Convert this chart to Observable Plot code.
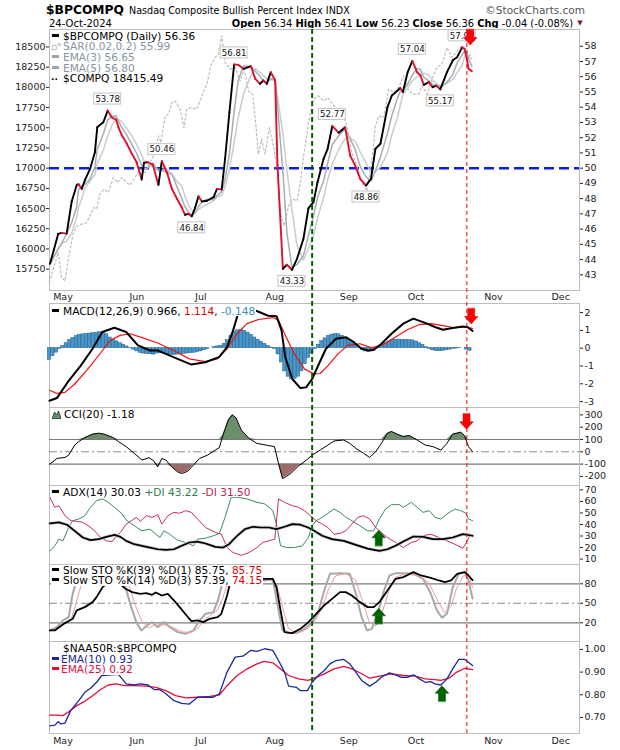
<!DOCTYPE html>
<html><head><meta charset="utf-8">
<script src="https://cdn.jsdelivr.net/npm/d3@7"></script>
<script src="https://cdn.jsdelivr.net/npm/@observablehq/plot@0.6"></script>
<style>
body{margin:0;background:#fff;}
#chart{position:relative;width:620px;height:750px;overflow:hidden;background:#fff;font-family:"DejaVu Sans",Verdana,sans-serif;}
.lg{position:absolute;left:51px;font:10.6px/10.7px "DejaVu Sans",Verdana,sans-serif;color:#000;}
.lg div{background:#fff;width:max-content;padding-right:1px;white-space:nowrap;height:10.7px;}
.ic{display:inline-block;width:7px;height:3px;margin:0 4px 0 1px;vertical-align:3px;}
.ict{display:inline-block;width:12px;font-size:9px;}
</style></head><body>
<div id="chart">
<svg width="620" height="28" style="position:absolute;left:0;top:0" font-family="DejaVu Sans, Verdana, sans-serif">
<text x="46" y="14" font-size="13" font-weight="bold" textLength="78" lengthAdjust="spacingAndGlyphs">$BPCOMPQ</text>
<text x="129" y="13.5" font-size="9.6">Nasdaq Composite Bullish Percent Index  INDX</text>
<text x="585" y="14" font-size="10.5" fill="#555" text-anchor="end">©StockCharts.com</text>
<text x="49" y="26.5" font-size="10">24-Oct-2024</text>
<text x="573" y="26.5" font-size="9.9" text-anchor="end"><tspan font-weight="bold">Open</tspan> 56.34 <tspan font-weight="bold">High</tspan> 56.41 <tspan font-weight="bold">Low</tspan> 56.23 <tspan font-weight="bold">Close</tspan> 56.36 <tspan font-weight="bold">Chg</tspan> -0.04 (-0.08%)</text>
<text x="580" y="25" font-size="7" fill="#8b1538" text-anchor="middle">▼</text>
</svg>
</div>
<script>
// ---------- DATA (x = trading-day index, 0 = 25-Apr-2024) ----------
const monthLabels = ["May","Jun","Jul","Aug","Sep","Oct","Nov","Dec"];
const monthStartDay = [4,26,45,67,89,109,132,152];

const bpcompq = [[0.15,43.72],[2.6,45.69],[3.6,45.75],[5.1,45.7],[6.6,47.81],[8.1,48.9],[8.6,48.95],[9.6,48.64],[10.6,49.25],[12.05,49.95],[13.5,51.04],[14.2,52.68],[16,53.01],[17.3,53.78],[18.5,53.34],[19.8,53.19],[20.5,52.68],[21.5,52.16],[23,51.6],[24.5,50.94],[25.9,50.39],[27.4,49.25],[28.1,50.35],[29.1,50.4],[30.7,50.24],[32.4,48.9],[33.4,50.46],[34.9,49.73],[36.4,48.64],[37.9,47.99],[39.3,47.43],[40.3,46.94],[41.3,47.0],[42.3,46.84],[43.3,47.4],[44.3,48.16],[45.3,47.81],[46.8,47.86],[48.8,48.1],[49.8,48.64],[51.2,48.6],[52.2,50.6],[53.5,53.67],[54.9,56.81],[56.1,56.78],[57.7,56.52],[59.9,56.69],[61.2,55.86],[62.6,55.53],[63.6,55.75],[64.6,55.53],[65.8,56.3],[67.1,55.75],[67.8,50.17],[69.4,43.4],[70.6,43.66],[72.1,43.33],[73.6,44.05],[75.5,45.36],[77,47.37],[78.5,47.77],[79.7,49.08],[81.5,50.61],[82.7,51.27],[84.1,52.77],[86,52.32],[87.9,52.68],[89.4,50.83],[90.9,50.17],[92.4,49.3],[94.1,48.86],[95.6,49.3],[96.9,51.27],[98.4,51.6],[100.5,54.0],[101.8,54.77],[103.5,55.09],[104.3,55.26],[105.1,55.0],[106.5,56.3],[107.9,57.04],[109.3,56.3],[110.3,56.08],[111.3,55.47],[112.8,55.65],[113.9,55.31],[115,55.41],[116.2,55.17],[118.2,56.3],[120,57.1],[121.2,57.28],[122.7,57.93],[123.4,57.84],[124.1,57.17],[124.6,56.52],[125.6,56.36]];

const compq = [[-0.05,15584],[1.1,15750],[2.6,15955],[3.6,15646],[4.6,15605],[5.6,15874],[7.1,16203],[8.3,16286],[9.6,16307],[11.1,16327],[12,16410],[13.2,16512],[14,16493],[15,16678],[16.2,16740],[17.5,16698],[19,16884],[20.2,16822],[21.5,16884],[22.8,16830],[23.9,16790],[25.4,16884],[26.9,16988],[28.4,16946],[29.9,17069],[31.4,17193],[32.4,17400],[33.1,17317],[34.4,17647],[35.4,17668],[36.4,17812],[37.3,17833],[38.8,17730],[40,17502],[40.8,17730],[42.3,17750],[43.8,17730],[45.3,17895],[46.8,18040],[47.96,18266],[49.2,18369],[50.2,18411],[51.2,18637],[52.2,18307],[53.7,18225],[55.2,18245],[56.7,18080],[57.9,18225],[59.2,17957],[60.4,17915],[61.4,17524],[62.1,17173],[63.1,17359],[64.1,17173],[65.4,17502],[66.6,17276],[67.8,16967],[68.6,16451],[69.8,16286],[71.1,16534],[72.4,16616],[73.6,16596],[74.6,16822],[75.7,17193],[77,17564],[78.5,17854],[80,17895],[81.5,17833],[82.7,17874],[84.2,17792],[85.5,17730],[87,17688],[88.4,17524],[89.9,17193],[91.4,17028],[92.9,16822],[94.4,16719],[95.9,17111],[96.9,17524],[97.9,17647],[99.4,17626],[100.8,17978],[102.3,17936],[103.8,17998],[105.3,18142],[106.8,17957],[108.3,17916],[109.8,17916],[110.8,18019],[112.3,17916],[113.7,18101],[115.2,18245],[116.7,18287],[118.2,18493],[119.7,18369],[121.2,18452],[122.7,18514],[124.2,18369],[125.6,18415]];
const compqTicks = [15750,16000,16250,16500,16750,17000,17250,17500,17750,18000,18250,18500];
const bpTicks = [43,44,45,46,47,48,49,50,51,52,53,54,55,56,57,58];

const peakDay = [17.3,33.4,42.3,54.9,72.1,84.1,94.1,107.9,116.2,122.7];
const peakValue = [53.78,50.46,46.84,56.81,43.33,52.77,48.86,57.04,55.17,57.93];
const peakSide = ["high","high","low","high","low","high","low","high","low","high"];

const macdLine = [[0,-2.95],[2.2,-2.8],[5.7,-1.83],[9.3,-0.98],[12.8,-0.03],[15.7,0.91],[19.3,1.15],[22.8,0.91],[26.3,0.16],[29.9,-0.13],[32.2,-0.13],[34.6,-0.32],[38.1,-0.6],[42.2,-0.92],[46.3,-0.79],[50.4,-0.5],[52.8,0.06],[54.6,1.0],[56,1.9],[57,2.07],[59,2.27],[62,2.06],[65,1.82],[67.5,1.8],[69,1.0],[70.1,-0.5],[72.2,-1.73],[74.6,-2.24],[76.3,-2.2],[78.1,-1.73],[79.9,-0.97],[82.2,-0.03],[85.2,0.53],[88.1,0.62],[90.5,0.34],[92.8,-0.03],[94.6,-0.13],[96.4,-0.1],[98.7,0.25],[101.7,0.81],[105.2,1.38],[108.2,1.66],[111.7,1.42],[114.6,1.19],[117,1.04],[119.9,1.13],[122.9,1.22],[124.3,1.19],[125.8,0.97]];
const macdSignal = [[0,-2.36],[2.2,-2.54],[4.6,-2.48],[7.5,-2.01],[11,-1.26],[14.6,-0.41],[18.1,0.44],[21,0.72],[24,0.81],[27.5,0.59],[32.2,0.29],[36.9,-0.13],[41.6,-0.6],[46.3,-0.75],[49.9,-0.6],[52.8,-0.03],[55.8,0.81],[58.7,1.38],[62.2,1.61],[66.4,1.72],[68.1,1.57],[69.9,0.81],[72.8,-0.32],[75.8,-1.16],[78.7,-1.45],[80.5,-1.42],[82.8,-0.98],[85.8,-0.32],[88.7,0.16],[92.3,0.25],[95.8,0.02],[99.3,0.21],[102.8,0.62],[106.4,1.04],[109.9,1.32],[113.4,1.38],[117,1.27],[120.5,1.15],[123.4,1.19],[125.8,1.11]];
const macdHist = [-0.66,-0.45,-0.25,-0.05,0.12,0.28,0.45,0.58,0.68,0.75,0.78,0.8,0.82,0.84,0.86,0.9,0.88,0.78,0.6,0.48,0.38,0.28,0.2,0.1,0.02,-0.08,-0.18,-0.26,-0.3,-0.32,-0.34,-0.36,-0.3,-0.28,-0.3,-0.34,-0.36,-0.38,-0.36,-0.34,-0.32,-0.3,-0.28,-0.26,-0.22,-0.18,-0.12,-0.06,0.0,0.06,0.1,0.14,0.25,0.45,0.7,0.9,1.0,1.02,0.98,0.88,0.75,0.6,0.48,0.36,0.24,0.12,0.04,-0.05,-0.35,-0.8,-1.3,-1.6,-1.75,-1.72,-1.6,-1.3,-0.9,-0.55,-0.3,-0.05,0.2,0.4,0.55,0.68,0.76,0.8,0.78,0.7,0.58,0.45,0.3,0.15,0.02,-0.1,-0.18,-0.2,-0.12,-0.02,0.08,0.18,0.28,0.38,0.45,0.48,0.48,0.47,0.46,0.45,0.44,0.38,0.28,0.18,0.06,-0.05,-0.12,-0.16,-0.17,-0.15,-0.12,-0.08,-0.04,-0.02,0.02,0.0,-0.08,-0.15];

const cci = [[0.1,-100],[2.2,-54],[4.6,-46],[5.7,-27],[7.5,55],[8.7,83],[10.5,115],[12.8,143],[14.6,151],[16.3,143],[18.7,118],[20.5,83],[22.8,42],[25.2,-13],[27.5,-67],[29.6,-48],[31.1,-76],[32.2,-122],[33.4,-54],[34.6,-67],[36.3,-122],[38.1,-163],[39.3,-177],[41.1,-158],[42.8,-108],[44.6,-54],[47,-27],[49.3,14],[50.5,34],[51.6,137],[53.2,260],[54.4,301],[55.5,274],[57,178],[59.3,110],[61.6,69],[65.2,50],[66.9,42],[68.1,-95],[69.3,-218],[71.7,-177],[74,-117],[76.4,-67],[78.1,-27],[80.5,14],[82.8,55],[84.6,88],[87.5,96],[89.3,69],[91.1,28],[93.4,-13],[95.2,-46],[97,1],[98.7,69],[100.5,151],[101.7,165],[103.4,143],[105.2,124],[107,132],[109.3,96],[111.7,55],[114,42],[116.4,14],[118.2,69],[119.9,143],[122.3,159],[123.4,132],[124.6,42],[125.8,1]];

const adx = [[0.1,40.9],[2.8,41.8],[5.2,39.8],[7.5,34.5],[9.9,28.7],[12.2,26.4],[14.6,27.3],[16.9,29.3],[19.3,31],[21.1,29.3],[22.8,25.8],[25.2,22.9],[27.5,21.5],[29.9,20],[32.2,18.5],[34.6,18],[37,18.5],[39.3,21.5],[41.6,24.4],[44,25.2],[46.4,23.5],[49.3,20.6],[51.6,20],[53.4,22.9],[55.8,30.2],[58.1,36],[60.5,38],[62.8,37.4],[65.2,37.4],[67.5,36],[69.9,38],[72.2,40.3],[74.6,39.8],[76.9,37.4],[78.7,34.5],[81.1,30.2],[84,27.3],[87.5,25.8],[91.1,22.3],[94.6,19.1],[98.1,17.1],[100.5,18.5],[102.9,21.5],[105.2,25.2],[108.2,29.6],[111.1,29.3],[114,27.3],[117,27.3],[119.9,28.7],[122.9,31.6],[125.8,30.2]];
const plusDI = [[0.1,17.1],[1.6,21.5],[2.8,27.3],[4,25.8],[5.7,37.4],[6.9,43.3],[8.7,44.7],[10.5,47.6],[12.2,54.9],[14,60.7],[15.8,62.2],[17.5,59.2],[19.3,54.9],[21.6,49.1],[22.8,43.8],[25.2,38.9],[27.5,34.5],[29.9,36],[31.6,31.6],[32.8,28.7],[34,34.5],[35.7,31.6],[38.1,26.4],[40.5,24.4],[42.8,21.5],[44,27.3],[46.4,28.1],[48.7,30.2],[50.5,32.2],[52.2,46.2],[54,63.6],[55.8,63.6],[58.7,62.2],[61.7,59.2],[64,57.8],[66.4,52],[67.5,40.3],[68.7,21.5],[70.5,20],[72.8,20],[75.2,21.5],[77,28.7],[78.1,38.9],[79.3,43.3],[81.1,46.2],[82.8,49.7],[84.6,53.4],[86.4,50.5],[88.1,46.2],[89.9,43.3],[92.3,38.9],[94.6,34.5],[96.4,34.5],[98.1,44.7],[99.9,53.4],[101.7,57.2],[104,57.2],[105.2,54.9],[107.6,59.2],[109.3,54.9],[111.1,50.5],[112.9,52],[114.6,46.2],[116.4,44.7],[118.2,49.1],[120.5,53.4],[122.3,52],[123.8,49.7],[124.6,44.7],[125.8,43.3]];
const minusDI = [[0.1,63.6],[1.6,54.9],[2.8,56.3],[4.6,47.6],[6.3,43.3],[8.1,42.7],[9.9,41.8],[11.6,38.9],[13.4,34.5],[15.2,28.7],[17,25.8],[18.7,25.2],[19.9,30.2],[21.1,33.1],[22.8,40.3],[24.6,43.8],[25.8,46.2],[27,42.7],[28.8,47.6],[30.5,46.2],[32.2,48.5],[33.4,40.3],[35.2,47.6],[37,50.5],[38.7,49.7],[40.5,52],[42.2,50.5],[44,44.7],[46.4,37.4],[49.3,33.1],[51.1,31.6],[52.8,20],[54.6,15.6],[57,13.3],[59.3,15.6],[61.7,20],[63.4,24.4],[65.2,25.8],[67,27.3],[68.1,62.2],[69.9,59.2],[72.2,56.3],[74,54.9],[75.8,52],[77.6,47.6],[79.3,43.3],[81.1,40.3],[82.8,37.4],[84.6,31.6],[86.4,32.2],[88.1,34.5],[89.9,40.3],[91.7,46.2],[93.4,47.6],[95.2,44.7],[97,37.4],[98.7,33.1],[100.5,28.7],[102.9,24.4],[105.2,20],[107.6,24.4],[109.3,25.8],[111.1,30.2],[113.4,31.6],[115.8,28.7],[118.2,25.8],[120.5,22.9],[122.9,19.4],[124,24.4],[125.2,31.6]];

const stoK39 = [[0.1,8.2],[1.6,8.2],[2.8,13.3],[4.6,19.5],[6.9,26.1],[8.1,39],[10.5,44.1],[12.8,51.8],[14,59.5],[15.8,74.9],[18,84],[20.5,82],[22.6,72.3],[24.6,67.2],[27,64.6],[28.8,65.6],[30.5,63.1],[31.6,66.7],[33.4,62],[35.2,64.6],[37,54.4],[38.7,44.1],[40.5,32.8],[42.2,22.5],[44,23.6],[45.8,21],[47.6,26.1],[50,28.7],[51.1,33.8],[52.8,62],[54,87.7],[56,96],[58,97],[60.5,90.3],[63.4,87.7],[66.4,87.7],[67.5,74.9],[68.7,39],[69.9,5.6],[72.2,4.1],[74.6,10.7],[77,21],[79.3,33.8],[81.7,46.7],[84,56.9],[86.4,67.2],[88.1,67.2],[89.9,62],[92.3,51.8],[94.6,44.1],[96.4,44.1],[98.1,51.8],[100.5,69.7],[102.9,87.7],[105.2,90.3],[108.2,98],[110.5,92.8],[113.4,89.2],[115.8,85.1],[117.6,82.6],[119.4,85.1],[121.2,95.4],[123.5,98],[124.6,92.8],[125.8,85.75]];
const stoK14 = [[0.1,8.2],[2.2,13.3],[4,23.6],[5.7,28.7],[6.9,64.6],[8.5,92],[10,97],[14,98],[18,97],[21,92],[22.6,74.9],[24,49.2],[25.8,21],[27.3,8.2],[29,15.9],[30.5,21],[32.2,13.3],[34,21],[35.8,13.3],[38.1,5.6],[40.5,3],[42.8,8.2],[44.6,23.6],[46.4,33.8],[48.7,36.4],[50.1,54.4],[51.1,74.9],[52.5,95],[55,99],[58,98],[61.1,90.3],[64,85.1],[66.4,87.7],[68.1,39],[69.3,8.2],[71.1,4.1],[73.4,4.1],[75.8,10.7],[78.1,21],[79.9,36.4],[81.7,69.7],[83.4,95.4],[86.4,96.4],[89.3,95.4],[91.1,64.6],[92.8,28.7],[94.4,8.2],[95.8,10.7],[97.6,33.8],[99.3,67.2],[101.1,92.8],[102.9,96.4],[106.4,96.4],[108.7,94.4],[111.1,87.7],[113.4,64.6],[115.2,39],[116.7,27.7],[118.2,33.8],[119.9,74.9],[121.7,95.4],[123.5,98],[124.6,85.1],[125.8,57.39]];
const stoD3 = [[0.1,10],[2.5,10],[4.5,18],[6.5,26],[8,52],[9.5,80],[12,96],[18,97],[22,95],[23.5,80],[25.5,47],[27.5,22],[29.5,12],[31,16],[33,17],[35,17],[37,12],[39.5,6],[42,5],[44,11],[46,24],[48,32],[50,40],[51.5,58],[52.8,78],[55,96],[59,98],[62,90],[65,87],[67.5,80],[69.5,40],[71,12],[73,5],[75,6],[77,12],[79,24],[81,42],[83,72],[85,92],[88,96],[91,86],[93,55],[95,22],[97,15],[99,38],[101,70],[103,90],[106,96],[110,92],[113,80],[115,58],[117.5,35],[119.5,46],[121,72],[123,92],[124.6,94],[125.8,74.15]];

const naaEma10 = [[0.1,0.663],[1.6,0.666],[2.6,0.681],[3.4,0.671],[4.6,0.675],[6.3,0.73],[8.7,0.774],[10.5,0.811],[12.2,0.829],[14,0.855],[15.5,0.885],[20.5,0.89],[22.8,0.848],[25.2,0.843],[27,0.848],[29.3,0.843],[31.1,0.823],[32.8,0.823],[34.6,0.804],[37,0.774],[39.3,0.762],[41.6,0.759],[44,0.789],[46.4,0.789],[48.7,0.789],[50.5,0.804],[52.8,0.9],[55.2,0.966],[57.5,0.97],[59.9,0.996],[61.7,0.991],[64,1.003],[66.4,0.996],[68.1,0.951],[69.9,0.9],[71.1,0.838],[73.4,0.833],[74.6,0.818],[76.7,0.818],[78.1,0.855],[79.9,0.885],[81.7,0.907],[83.4,0.936],[85.2,0.951],[87.5,0.956],[89.3,0.936],[91.1,0.9],[92.8,0.863],[95.2,0.838],[97,0.855],[98.7,0.877],[101.1,0.897],[102.9,0.888],[104.6,0.877],[106.4,0.877],[108.2,0.888],[110,0.87],[111.7,0.855],[113.4,0.858],[114.6,0.848],[116.4,0.843],[118.2,0.87],[119.9,0.914],[121.7,0.956],[123.5,0.956],[125.8,0.929]];
const naaEma25 = [[0.1,0.71],[2.2,0.71],[4,0.708],[5.7,0.725],[8.1,0.752],[10.5,0.771],[12.8,0.796],[15.2,0.823],[17.5,0.843],[19.9,0.848],[22.2,0.84],[25.2,0.84],[28.7,0.838],[31.6,0.833],[34.6,0.818],[37.5,0.796],[40.5,0.786],[44,0.789],[47.6,0.793],[50.5,0.799],[52.8,0.84],[55.8,0.885],[58.7,0.914],[61.7,0.936],[63.8,0.947],[66.4,0.941],[68.7,0.914],[71.1,0.885],[74,0.87],[76.9,0.863],[79.3,0.877],[81.7,0.892],[84.6,0.914],[87.5,0.925],[89.9,0.914],[92.3,0.897],[95.2,0.873],[98.1,0.882],[101.7,0.892],[105.2,0.885],[108.7,0.882],[111.7,0.87],[114.6,0.867],[116.4,0.863],[118.8,0.873],[121.1,0.9],[123.5,0.917],[125.8,0.911]];

const greenLineDay = 78.1;
const redLineDay = 124.1;
const downArrows = {main: [125.1, 59.1], macd: [125.4, 2.23], cci: [124, 309]};
const upArrows = {adx: [97.9, 21.5], sto: [97.9, 18.4], naa: [116.7, 0.771]};

// ---------- RENDER ----------
const chart = document.getElementById("chart");
const FONT = "DejaVu Sans, Verdana, sans-serif";
const xDomain = [0, 157.6];
const pt = a => a.map(([i, v]) => ({i, v}));
const toBP = c => 50 + (c - 17000) / 188.6;

const blockArrow = {
  draw(ctx, l) {
    const sw = 3.5, hw = 6.8, hl = 7.5;
    ctx.moveTo(-sw, 0); ctx.lineTo(-sw, -l + hl); ctx.lineTo(-hw, -l + hl);
    ctx.lineTo(0, -l); ctx.lineTo(hw, -l + hl); ctx.lineTo(sw, -l + hl);
    ctx.lineTo(sw, 0); ctx.closePath();
  }
};
const downArrow = p => Plot.vector([p], {x: d => d[0], y: d => d[1], length: 15.5, rotate: 180, anchor: "start", shape: blockArrow, fill: "#ff0000", stroke: "#c00000", strokeWidth: 0.5});
const upArrow = p => Plot.vector([p], {x: d => d[0], y: d => d[1], length: 15.5, rotate: 0, anchor: "start", shape: blockArrow, fill: "#006400", stroke: "#004d00", strokeWidth: 0.5});

const rightAxis = (ticks, fmt) => Plot.axisY({anchor: "right", ticks, tickFormat: fmt || (d => String(d)), tickSize: 3, tickPadding: 2, label: null, fontSize: 9.5});
const monthAxis = pad => Plot.axisX({anchor: "bottom", ticks: monthStartDay, tickFormat: d => monthLabels[monthStartDay.indexOf(d)], tickSize: 0, tickPadding: pad, label: null, fontSize: 9.5});
const frame = Plot.frame({stroke: "#bdbdbd"});
const line = (arr, o) => Plot.line(pt(arr), {x: "i", y: "v", ...o});

function addPanel(top, frameH, mt, mb, yDomain, marks, showX) {
  const svg = Plot.plot({
    width: 620, height: frameH + mt + mb,
    marginLeft: 49, marginRight: 41, marginTop: mt, marginBottom: mb,
    x: showX ? {domain: xDomain} : {domain: xDomain, axis: null},
    y: {domain: yDomain},
    color: {type: "identity"},
    style: {background: "transparent", fontFamily: FONT, fontSize: "9.5px", color: "#222"},
    marks
  });
  const wrap = document.createElement("div");
  wrap.style.cssText = `position:absolute;left:0;top:${top - mt}px;`;
  wrap.appendChild(svg);
  chart.appendChild(wrap);
}

// Main panel
const bp = pt(bpcompq);
const peaks = peakDay.map((d, k) => ({i: d, v: peakValue[k], t: peakValue[k].toFixed(2), side: peakSide[k]}));
const highs = peaks.filter(d => d.side === "high"), lows = peaks.filter(d => d.side === "low");
const boxOpts = {x1: "i", x2: "i", y1: "v", y2: "v", insetLeft: -13.5, insetRight: -13.5, insetTop: -5.5, insetBottom: -5.5, fill: "white", stroke: "#c4c4c4"};
const txtOpts = {x: "i", y: "v", text: "t", fontSize: 8.6, fill: "#111"};
addPanel(29, 261, 1, 14, [41.97, 59.1], [
  frame,
  Plot.ruleY([50], {stroke: "#0b1ee8", strokeWidth: 2.5, strokeDasharray: "10,5"}),
  Plot.line(compq, {x: d => d[0], y: d => toBP(d[1]), stroke: "#bdbdbd", strokeWidth: 1.2, strokeDasharray: "2,2.5"}),
  Plot.line(bp, Plot.windowY({k: 5, anchor: "end"}, {x: "i", y: "v", stroke: "#c6cdd3", strokeWidth: 1.5})),
  Plot.line(bp, Plot.windowY({k: 3, anchor: "end"}, {x: "i", y: "v", stroke: "#a4aeb7", strokeWidth: 1.5})),
  Plot.link(d3.pairs(bp), {x1: p => p[0].i, y1: p => p[0].v, x2: p => p[1].i, y2: p => p[1].v, stroke: p => p[1].v >= p[0].v ? "#000000" : "#e0102c", strokeWidth: 1.9, strokeLinecap: "round"}),
  Plot.rect(highs, {...boxOpts, dy: -11.5}),
  Plot.rect(lows, {...boxOpts, dy: 11.5}),
  Plot.text(highs, {...txtOpts, dy: -11.5}),
  Plot.text(lows, {...txtOpts, dy: 11.5}),
  rightAxis(bpTicks),
  Plot.axisY({anchor: "left", ticks: compqTicks.map(toBP), tickFormat: d => String(Math.round(((d - 50) * 188.6 + 17000) / 250) * 250), tickSize: 3, tickPadding: 1, label: null, fontSize: 9.5}),
  monthAxis(3),
  downArrow(downArrows.main)
], true);

// MACD
addPanel(303, 104, 1, 1, [-3.33, 2.51], [
  frame,
  Plot.rect(macdHist, {x1: (d, i) => i - 0.5, x2: (d, i) => i + 0.5, y1: 0, y2: d => d, fill: "#4b96c8", stroke: "#1f5f8b", strokeWidth: 0.5}),
  line(macdSignal, {stroke: "#f01010", strokeWidth: 1.2}),
  line(macdLine, {stroke: "#000", strokeWidth: 2}),
  rightAxis([2, 1, 0, -1, -2, -3]),
  downArrow(downArrows.macd)
]);

// CCI
addPanel(407, 78, 1, 1, [-274, 360], [
  frame,
  Plot.areaY(pt(cci), {x: "i", y1: 100, y2: d => Math.max(100, d.v), fill: "#6b8f6b"}),
  Plot.areaY(pt(cci), {x: "i", y1: -100, y2: d => Math.min(-100, d.v), fill: "#a06a6a"}),
  Plot.ruleY([100, -100], {stroke: "#7a7a7a", strokeWidth: 1.2}),
  Plot.ruleY([0], {stroke: "#8a8a8a", strokeDasharray: "8,3,2,3"}),
  line(cci, {stroke: "#000", strokeWidth: 1}),
  rightAxis([300, 200, 100, 0, -100, -200]),
  downArrow(downArrows.cci)
]);

// ADX
addPanel(485, 79, 1, 1, [5.3, 73.8], [
  frame,
  line(plusDI, {stroke: "#3c8c5c", strokeWidth: 1}),
  line(minusDI, {stroke: "#c4305a", strokeWidth: 1}),
  line(adx, {stroke: "#d2d2d2", strokeWidth: 3.4}),
  line(adx, {stroke: "#000", strokeWidth: 1.7}),
  rightAxis([10, 20, 30, 40, 50, 60, 70]),
  upArrow(upArrows.adx)
]);

// Slow STO
addPanel(564, 77, 1, 1, [-8.8, 109.7], [
  frame,
  Plot.ruleY([80, 20], {stroke: "#7a7a7a", strokeWidth: 1.2}),
  Plot.ruleY([50], {stroke: "#8a8a8a", strokeDasharray: "8,3,2,3"}),
  line(stoK14, {stroke: "#a8a8a8", strokeWidth: 2}),
  line(stoD3, {stroke: "#f29a9a", strokeWidth: 1}),
  line(stoK39, {stroke: "#000", strokeWidth: 1.8}),
  rightAxis([80, 50, 20]),
  upArrow(upArrows.sto)
]);

// NAA50R : BPCOMPQ
addPanel(641, 92, 1, 17, [0.629, 1.035], [
  frame,
  line(naaEma25, {stroke: "#e0103c", strokeWidth: 1.3}),
  line(naaEma10, {stroke: "#1a2a9c", strokeWidth: 1.3}),
  rightAxis([1.0, 0.9, 0.8, 0.7], d => d.toFixed(2)),
  monthAxis(4),
  upArrow(upArrows.naa)
], true);

// Legends (white-backed, as in the original)
const legends = `
<div class="lg" style="top:30.5px">
 <div><span class="ic" style="background:#000"></span>$BPCOMPQ (Daily) 56.36</div>
 <div style="color:#8795a1"><span class="ict">▫°</span>SAR(0.02,0.2) 55.99</div>
 <div style="color:#8795a1"><span class="ic" style="background:#9aa5ae"></span>EMA(3) 56.65</div>
 <div style="color:#8795a1"><span class="ic" style="background:#9aa5ae"></span>EMA(5) 56.80</div>
 <div><span class="ict" style="font-weight:bold">··</span>$COMPQ 18415.49</div>
</div>
<div class="lg" style="top:305.5px">
 <div><span class="ic" style="background:#000"></span>MACD(12,26,9) 0.966, <span style="color:#e00000">1.114</span>, <span style="color:#3b8ec4">-0.148</span></div>
</div>
<div class="lg" style="top:408.5px">
 <div><svg width="9" height="9" style="margin:0 3px 0 1px;vertical-align:-1px"><path d="M0,8.5 L2.5,2 L4.5,5 L6.5,1 L9,8.5 Z" fill="#6b8f6b" stroke="#000" stroke-width="0.6"/></svg>CCI(20) -1.18</div>
</div>
<div class="lg" style="top:486.5px">
 <div><span class="ic" style="background:#000"></span>ADX(14) 30.03 <span style="color:#2e7d4f">+DI 43.22</span> <span style="color:#b52a52">-DI 31.50</span></div>
</div>
<div class="lg" style="top:564.5px">
 <div><span class="ic" style="background:#000"></span>Slow STO %K(39) %D(1) 85.75, <span style="color:#e00000">85.75</span></div>
 <div><span class="ic" style="background:#000"></span>Slow STO %K(14) %D(3) 57.39, <span style="color:#e00000">74.15</span></div>
</div>
<div class="lg" style="top:643px">
 <div><span style="display:inline-block;width:12px"></span>$NAA50R:$BPCOMPQ</div>
 <div style="color:#1a2a9c"><span class="ic" style="background:#1a2a9c;margin-right:2px"></span>EMA(10) 0.93</div>
 <div style="color:#e0103c"><span class="ic" style="background:#e0103c;margin-right:2px"></span>EMA(25) 0.92</div>
</div>`;
chart.insertAdjacentHTML("beforeend", legends);

// Vertical marker lines spanning all panels
const ov = Plot.plot({
  width: 620, height: 750, marginTop: 29, marginBottom: 17, marginLeft: 49, marginRight: 41,
  x: {domain: xDomain, axis: null}, y: {domain: [0, 1], axis: null},
  style: {background: "transparent"},
  marks: [
    Plot.ruleX([greenLineDay], {stroke: "#006400", strokeWidth: 2, strokeDasharray: "5,3"}),
    Plot.ruleX([redLineDay], {stroke: "#ff0000", strokeWidth: 1, strokeDasharray: "4,3"})
  ]
});
const ovw = document.createElement("div");
ovw.style.cssText = "position:absolute;left:0;top:0;pointer-events:none;";
ovw.appendChild(ov);
chart.appendChild(ovw);
</script></body></html>
